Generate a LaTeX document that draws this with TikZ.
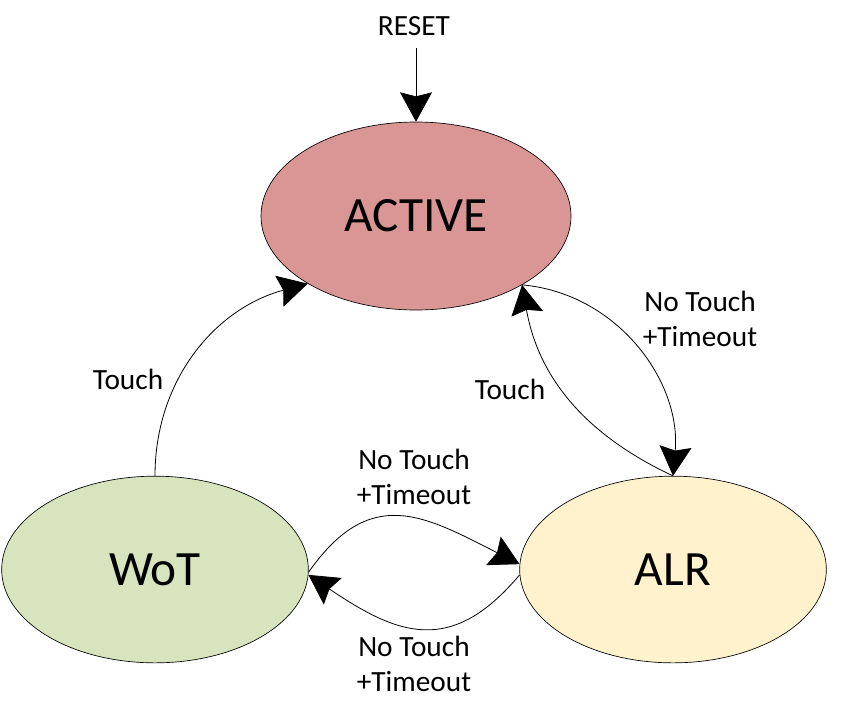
\documentclass[tikz,border=0pt]{standalone}
\usepackage{fontspec}
\setmainfont{Carlito}
\usetikzlibrary{arrows.meta,shapes.geometric}
\definecolor{activefill}{HTML}{D99694}
\definecolor{wotfill}{HTML}{D7E4BD}
\definecolor{alrfill}{HTML}{FFF2CC}
\begin{document}
\begin{tikzpicture}[x=0.75pt,y=0.75pt,
    state/.style={ellipse,draw,line width=0.5pt,inner sep=0pt,
      minimum width=230pt,minimum height=140pt,
      font=\fontsize{37}{44}\selectfont},
    lbl/.style={align=center,font=\fontsize{22}{26.4}\selectfont},
    trans/.style={-{Stealth[length=22pt,width=24pt,inset=3pt]},line width=0.6pt}]
  \useasboundingbox (0,0) rectangle (862,-711);
  \node[state,fill=activefill,minimum width=232.5pt,minimum height=141pt] (active) at (416,-216) {ACTIVE};
  \node[state,fill=wotfill] (wot) at (155,-569.5) {WoT};
  \node[state,fill=alrfill] (alr) at (673,-569.5) {ALR};
  \node[lbl] (reset) at (414,-26) {RESET};
  \coordinate (resetend) at (416,-48);
  \node[lbl] (l1) at (128,-379) {Touch};
  \node[lbl] (l2) at (700,-319) {No Touch\\+Timeout};
  \node[lbl] (l3) at (510,-389) {Touch};
  \node[lbl] (l4) at (414,-477) {No Touch\\+Timeout};
  \node[lbl] (l5) at (414,-664) {No Touch\\+Timeout};
  \begin{scope}[trans]
    \draw (resetend) to (active.north);
    \draw (wot.north) to[out=90,in=195] (active.-148);
    \draw (active.-33) to[out=-5,in=85] (alr.north);
    \draw (alr.north) to[out=155,in=-80] (active.-33);
    \draw (wot.-1) to[out=55,in=153,looseness=1.3] (alr.178);
    \draw (alr.182) to[out=-130,in=-34,looseness=1.3] (wot.-2);
  \end{scope}
\end{tikzpicture}
\end{document}
